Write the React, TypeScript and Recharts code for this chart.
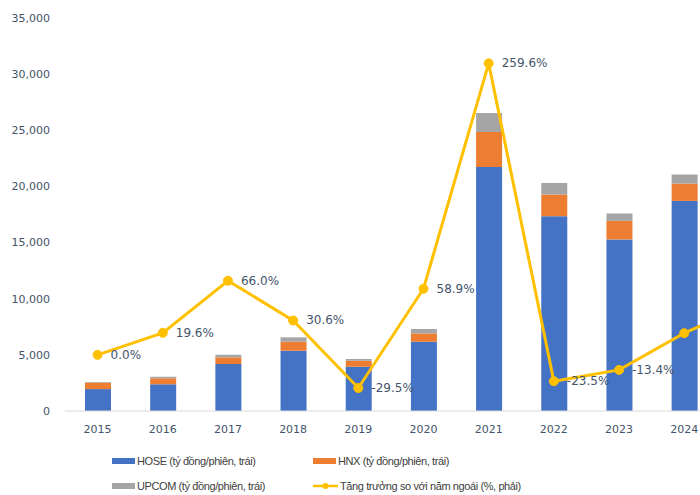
import {
  Bar,
  ComposedChart,
  LabelList,
  Line,
  XAxis,
  YAxis,
} from "recharts"

const years = ["2015", "2016", "2017", "2018", "2019", "2020", "2021", "2022", "2023", "2024", "2025"]
const hose = [1950, 2380, 4180, 5370, 3940, 6170, 21730, 17350, 15280, 18710, null]
const hnx = [570, 530, 600, 800, 540, 740, 3120, 1930, 1650, 1550, null]
const upcom = [60, 140, 230, 390, 150, 390, 1690, 1030, 660, 800, null]
const growth = [0.0, 19.6, 66.0, 30.6, -29.5, 58.9, 259.6, -23.5, -13.4, 19.3, 45.0]

const leftTicks = [0, 5000, 10000, 15000, 20000, 25000, 30000, 35000]
const rightTicks = [-50, 0, 50, 100, 150, 200, 250, 300]

const data = years.map((year, i) => ({
  year,
  hose: hose[i],
  hnx: hnx[i],
  upcom: upcom[i],
  growth: growth[i],
}))

const BLUE = "#4472C4"
const ORANGE = "#ED7D31"
const GRAY = "#A5A5A5"
const GOLD = "#FFC000"
const TEXT = "#44546A"
// the picture is a crop: anything past this x is outside the frame
const VIEW_W = 700

const tickStyle = { fontSize: 11, fill: TEXT, fontFamily: "DejaVu Sans" }

function GrowthLabel(props: any) {
  const { x, y, value } = props
  if (value == null || x + 13 > VIEW_W - 10) return null
  return (
    <text
      x={x + 13}
      y={y + 4}
      fontSize={12}
      fill={TEXT}
      fontFamily="DejaVu Sans"
      textAnchor="start"
    >
      {Number(value).toFixed(1)}%
    </text>
  )
}

function YearTick(props: any) {
  const { x, y, payload } = props
  if (x > VIEW_W) return null
  return (
    <text x={x} y={y} dy="0.71em" textAnchor="middle" {...tickStyle}>
      {payload.value}
    </text>
  )
}

function LegendItem({ color, label, line }: { color: string; label: string; line?: boolean }) {
  return (
    <div style={{ display: "flex", alignItems: "center", height: 14 }}>
      {line ? (
        <svg width={25} height={10} style={{ marginRight: 2 }}>
          <line x1={0} y1={5} x2={25} y2={5} stroke={GOLD} strokeWidth={2.5} />
          <circle cx={12.5} cy={5} r={3} fill={GOLD} />
        </svg>
      ) : (
        <div style={{ width: 23, height: 6, background: color, marginRight: 2 }} />
      )}
      <span>{label}</span>
    </div>
  )
}

export default function App() {
  return (
    <div
      style={{
        position: "absolute",
        left: 0,
        top: 0,
        width: VIEW_W,
        height: 495,
        overflow: "hidden",
        background: "#fff",
      }}
    >
      <ComposedChart
        width={847}
        height={445}
        data={data}
        margin={{ top: 18, right: 65, bottom: 4, left: 0 }}
        barSize={26}
      >
        <XAxis
          dataKey="year"
          axisLine={{ stroke: "#D9D9D9" }}
          tickLine={false}
          tickSize={0}
          tickMargin={14}
          height={30}
          tick={<YearTick />}
        />
        <YAxis
          yAxisId="left"
          domain={[0, 35000]}
          ticks={leftTicks}
          interval={0}
          width={65}
          axisLine={false}
          tickLine={false}
          tickSize={0}
          tickMargin={15}
          tick={tickStyle}
          tickFormatter={(v: number) => v.toLocaleString("en-US")}
        />
        {/* right axis sits outside the cropped frame */}
        <YAxis yAxisId="right" orientation="right" domain={[-50, 300]} ticks={rightTicks} hide />
        <Bar yAxisId="left" dataKey="hose" stackId="s" fill={BLUE} isAnimationActive={false} />
        <Bar yAxisId="left" dataKey="hnx" stackId="s" fill={ORANGE} isAnimationActive={false} />
        <Bar yAxisId="left" dataKey="upcom" stackId="s" fill={GRAY} isAnimationActive={false} />
        <Line
          yAxisId="right"
          dataKey="growth"
          stroke={GOLD}
          strokeWidth={3}
          dot={{ r: 4.5, fill: GOLD, stroke: GOLD, strokeWidth: 1 }}
          isAnimationActive={false}
        >
          <LabelList dataKey="growth" content={GrowthLabel} />
        </Line>
      </ComposedChart>
      <div
        style={{
          position: "absolute",
          left: 112,
          top: 454,
          display: "grid",
          gridTemplateColumns: "201px 260px",
          rowGap: 11,
          fontFamily: "'Liberation Sans', Arial, sans-serif",
          fontSize: 11,
          letterSpacing: -0.4,
          color: "#404040",
          whiteSpace: "nowrap",
        }}
      >
        <LegendItem color={BLUE} label="HOSE (tỷ đồng/phiên, trái)" />
        <LegendItem color={ORANGE} label="HNX (tỷ đồng/phiên, trái)" />
        <LegendItem color={GRAY} label="UPCOM (tỷ đồng/phiên, trái)" />
        <LegendItem color={GOLD} label="Tăng trưởng so với năm ngoái (%, phải)" line />
      </div>
    </div>
  )
}
